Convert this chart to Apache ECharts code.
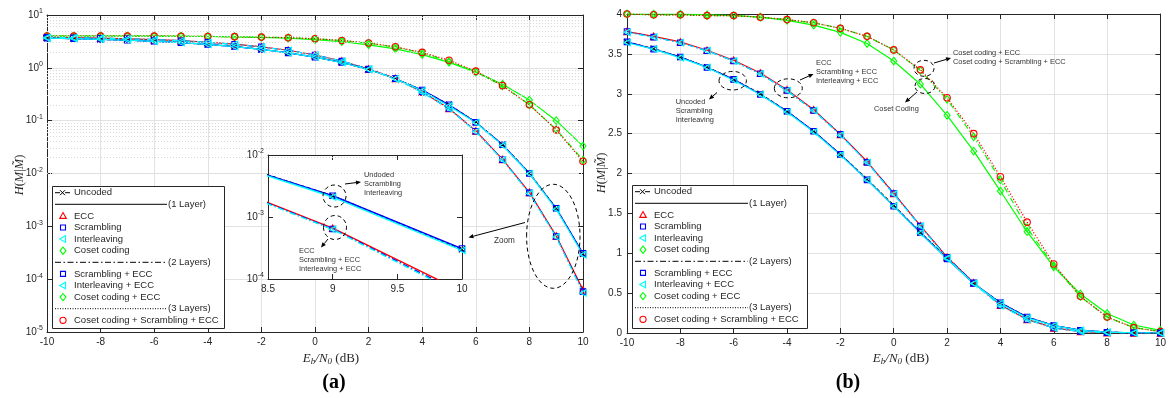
<!DOCTYPE html>
<html><head><meta charset="utf-8">
<script src="https://cdn.jsdelivr.net/npm/echarts@6/dist/echarts.min.js"></script>
<style>html,body{margin:0;padding:0;background:#fff}#c{width:1169px;height:398px}</style>
</head><body><div id="c"></div>
<script>
// ---------------- data ----------------
const snr = [-10,-9,-8,-7,-6,-5,-4,-3,-2,-1,0,1,2,3,4,5,6,7,8,9,10];
const uncoded         = [3.65,3.565,3.46,3.335,3.18,3.0,2.78,2.53,2.24,1.93,1.60,1.26,0.94,0.62,0.38,0.20,0.094,0.035,0.0102,0.0022,0.00030];
const scrambling      = [3.65,3.56,3.46,3.33,3.18,2.99,2.78,2.53,2.24,1.92,1.59,1.26,0.93,0.62,0.38,0.20,0.093,0.035,0.0100,0.0022,0.00031];
const interleaving    = [3.64,3.56,3.45,3.33,3.17,2.99,2.77,2.52,2.23,1.92,1.59,1.25,0.93,0.62,0.37,0.19,0.092,0.034,0.0099,0.0021,0.00029];
const ecc             = [3.78,3.72,3.65,3.545,3.42,3.26,3.05,2.80,2.49,2.15,1.75,1.345,0.95,0.63,0.35,0.17,0.064,0.0185,0.0044,0.00066,0.000063];
const scramblingEcc   = [3.78,3.71,3.64,3.54,3.41,3.25,3.04,2.79,2.49,2.14,1.75,1.34,0.95,0.63,0.35,0.17,0.063,0.0182,0.0043,0.00064,0.000058];
const interleavingEcc = [3.77,3.71,3.64,3.54,3.41,3.25,3.04,2.79,2.48,2.14,1.74,1.34,0.94,0.62,0.34,0.17,0.062,0.018,0.0042,0.00063,0.000055];
const coset           = [4.0,4.0,4.0,3.99,3.98,3.96,3.92,3.86,3.77,3.63,3.41,3.12,2.73,2.28,1.78,1.27,0.83,0.49,0.245,0.10,0.033];
const cosetEcc        = [4.0,3.99,3.99,3.98,3.98,3.96,3.93,3.89,3.82,3.72,3.55,3.29,2.93,2.46,1.92,1.32,0.845,0.455,0.20,0.068,0.018];
const cosetScrEcc     = [4.0,3.99,3.99,3.98,3.98,3.96,3.93,3.89,3.82,3.72,3.55,3.30,2.95,2.50,1.96,1.39,0.865,0.46,0.20,0.067,0.017];

const logMinor = [];
[-5,-4,-3,-2,-1,0].forEach(e => { for (let k = 2; k <= 9; k++) logMinor.push(k * Math.pow(10, e)); });

const DASHDOT = [6,2.5,1.5,2.5];
const DOT = [1.2,1.8];
const SANS = '"Liberation Sans", Arial, Helvetica, sans-serif';
const SERIF = '"Liberation Serif", "DejaVu Serif", serif';
const AX = '#262626';
const LEG_FONT = '9.5px ' + SANS;

// drawing order: greens/red-dotted first, cyan last (on top)
const defs = [
  {name:'Coset coding', data:coset, color:'#00ff00', sym:'diamond', dash:'solid', grp:'C'},
  {name:'Coset coding + ECC', data:cosetEcc, color:'#00ff00', sym:'diamond', dash:DASHDOT, grp:'C'},
  {name:'Coset coding + Scrambling + ECC', data:cosetScrEcc, color:'#ff0000', sym:'circle', dash:DOT, grp:'C'},
  {name:'Uncoded', data:uncoded, color:'#000000', sym:'x', dash:[4,2], grp:'A'},
  {name:'ECC', data:ecc, color:'#ff0000', sym:'triangle', dash:'solid', grp:'B'},
  {name:'Scrambling', data:scrambling, color:'#0000ff', sym:'rect', dash:'solid', grp:'A'},
  {name:'Scrambling + ECC', data:scramblingEcc, color:'#0000ff', sym:'rect', dash:DASHDOT, grp:'B'},
  {name:'Interleaving', data:interleaving, color:'#00ffff', sym:'ltri', dash:'solid', grp:'A'},
  {name:'Interleaving + ECC', data:interleavingEcc, color:'#00ffff', sym:'ltri', dash:DASHDOT, grp:'B'}
];

function symOf(s){
  if (s === 'x') return {symbol:'path://M0,0L10,10M10,0L0,10', size:6, rot:0};
  if (s === 'ltri') return {symbol:'triangle', size:6.5, rot:90};
  if (s === 'diamond') return {symbol:'diamond', size:[6,7.5], rot:0};
  if (s === 'rect') return {symbol:'rect', size:5.5, rot:0};
  if (s === 'circle') return {symbol:'circle', size:6.5, rot:0};
  return {symbol:'triangle', size:6.5, rot:0};
}

function mkSeries(d, xi, yi, z, w){
  const s = symOf(d.sym);
  return {
    type:'line', name:d.name, xAxisIndex:xi, yAxisIndex:yi, z:z,
    data: snr.map((x,i) => [x, d.data[i]]),
    symbol:s.symbol, symbolSize:s.size, symbolRotate:s.rot,
    showSymbol:true, showAllSymbol:true, clip:true, animation:false, silent:true,
    lineStyle:{color:d.color, width:w || 1.2, type:d.dash},
    itemStyle:{color:'transparent', borderColor:d.color, borderWidth:1.1}
  };
}

function logFmt(v){
  const e = Math.round(Math.log10(v));
  return '{b|10}{s|' + e + '}';
}
const logRich = {b:{fontSize:10, color:AX, fontFamily:SANS}, s:{fontSize:7, color:AX, fontFamily:SANS, padding:[0,0,7,0]}};

function xAx(grid, pos, min, max, interval, labels, split){
  return {
    type:'value', gridIndex:grid, position:pos, min:min, max:max, interval:interval, z: grid===1?4:0,
    axisLine:{show:true, onZero:false, lineStyle:{color:AX, width:1}},
    axisTick:{show:true, inside:true, length:5, lineStyle:{color:AX}},
    axisLabel:{show:labels, margin:5, color:AX, fontSize:10, fontFamily:SANS},
    splitLine:{show:split, lineStyle:{color:'#e2e2e2', width:1}}
  };
}
function yLog(grid, pos, min, max, labels, split, splitNumber){
  return {
    type:'log', logBase:10, gridIndex:grid, position:pos, min:min, max:max, splitNumber:splitNumber, z: grid===1?4:0,
    axisLine:{show:true, onZero:false, lineStyle:{color:AX, width:1}},
    axisTick:{show:true, inside:true, length:5, lineStyle:{color:AX}},
    axisLabel:{show:labels, margin:4, formatter:logFmt, rich:logRich},
    splitLine:{show:split, lineStyle:{color:'#e2e2e2', width:1}}
  };
}
function yLin(grid, pos, labels, split){
  return {
    type:'value', gridIndex:grid, position:pos, min:0, max:4, interval:0.5,
    axisLine:{show:true, onZero:false, lineStyle:{color:AX, width:1}},
    axisTick:{show:true, inside:true, length:5, lineStyle:{color:AX}},
    axisLabel:{show:labels, margin:5, color:AX, fontSize:10, fontFamily:SANS},
    splitLine:{show:split, lineStyle:{color:'#e2e2e2', width:1}}
  };
}

const series = [];
// minor log grid (left panel)
series.push({type:'line', xAxisIndex:0, yAxisIndex:0, z:1, data:[[0,1]], showSymbol:false, silent:true,
  lineStyle:{opacity:0}, animation:false,
  markLine:{silent:true, symbol:['none','none'], label:{show:false}, animation:false,
    lineStyle:{color:'#d6d6d6', width:1, type:[1,2]},
    data: logMinor.map(v => ({yAxis:v}))}});
defs.forEach(d => series.push(mkSeries(d, 0, 0, 2)));
defs.filter(d => d.grp !== 'C').forEach(d => series.push(mkSeries(d, 2, 2, 5, 1.4)));
defs.forEach(d => series.push(mkSeries(d, 4, 4, 2)));

// ---------------- graphics ----------------
const legendRows = [
  {label:'Uncoded', marker:'x', color:'#000000'},
  {sep:'(1 Layer)', dash:null},
  {label:'ECC', marker:'triangle', color:'#ff0000'},
  {label:'Scrambling', marker:'rect', color:'#0000ff'},
  {label:'Interleaving', marker:'ltri', color:'#00ffff'},
  {label:'Coset coding', marker:'diamond', color:'#00ff00'},
  {sep:'(2 Layers)', dash:DASHDOT},
  {label:'Scrambling + ECC', marker:'rect', color:'#0000ff'},
  {label:'Interleaving + ECC', marker:'ltri', color:'#00ffff'},
  {label:'Coset coding + ECC', marker:'diamond', color:'#00ff00'},
  {sep:'(3 Layers)', dash:[1,1.5]},
  {label:'Coset coding + Scrambling + ECC', marker:'circle', color:'#ff0000'}
];

function markerEl(m, cx, cy, c){
  const st = {fill:'none', stroke:c, lineWidth:1.1};
  if (m === 'triangle') return [{type:'polygon', shape:{points:[[cx,cy-3.3],[cx+3.3,cy+2.5],[cx-3.3,cy+2.5]]}, style:st, z:11}];
  if (m === 'ltri') return [{type:'polygon', shape:{points:[[cx-3.3,cy],[cx+2.5,cy-3.3],[cx+2.5,cy+3.3]]}, style:st, z:11}];
  if (m === 'rect') return [{type:'rect', shape:{x:cx-2.5, y:cy-2.5, width:5, height:5}, style:st, z:11}];
  if (m === 'diamond') return [{type:'polygon', shape:{points:[[cx,cy-3.6],[cx+3,cy],[cx,cy+3.6],[cx-3,cy]]}, style:st, z:11}];
  if (m === 'circle') return [{type:'circle', shape:{cx:cx, cy:cy, r:3.1}, style:st, z:11}];
  return [
    {type:'line', shape:{x1:cx-2.5, y1:cy-2.5, x2:cx+2.5, y2:cy+2.5}, style:{stroke:c, lineWidth:1}, z:11},
    {type:'line', shape:{x1:cx+2.5, y1:cy-2.5, x2:cx-2.5, y2:cy+2.5}, style:{stroke:c, lineWidth:1}, z:11}
  ];
}

function buildLegend(x0, y0, w, h, sepEnd){
  let els = [{type:'rect', shape:{x:x0+0.5, y:y0+0.5, width:w, height:h}, style:{fill:'#fff', stroke:AX, lineWidth:1}, z:10}];
  legendRows.forEach((r, i) => {
    const cy = y0 + 6.7 + i * 11.6;
    if (r.sep) {
      const ls = {stroke:'#000', lineWidth:1};
      if (r.dash) ls.lineDash = r.dash;
      els.push({type:'line', shape:{x1:x0+3, y1:cy, x2:x0+sepEnd, y2:cy}, style:ls, z:11});
      els.push({type:'text', x:x0+sepEnd+1, y:cy, style:{text:r.sep, fill:AX, font:LEG_FONT, verticalAlign:'middle', align:'left'}, z:11});
    } else {
      if (r.marker === 'x') {
        els.push({type:'line', shape:{x1:x0+3, y1:cy, x2:x0+8, y2:cy}, style:{stroke:'#000', lineWidth:1}, z:11});
        els.push({type:'line', shape:{x1:x0+13, y1:cy, x2:x0+18, y2:cy}, style:{stroke:'#000', lineWidth:1}, z:11});
        els = els.concat(markerEl('x', x0+10.5, cy, '#000'));
      } else {
        els = els.concat(markerEl(r.marker, x0+11, cy, r.color));
      }
      els.push({type:'text', x:x0+22, y:cy, style:{text:r.label, fill:AX, font:LEG_FONT, verticalAlign:'middle', align:'left'}, z:11});
    }
  });
  return els;
}

function ell(cx, cy, rx, ry){
  return {type:'ellipse', shape:{cx:cx, cy:cy, rx:rx, ry:ry}, style:{fill:'none', stroke:'#000', lineWidth:1, lineDash:[4,3]}, z:12};
}
function arrow(x1, y1, x2, y2){
  const a = Math.atan2(y2-y1, x2-x1), L = 5, W = 2.2;
  const bx = x2 - L*Math.cos(a), by = y2 - L*Math.sin(a);
  return [
    {type:'line', shape:{x1:x1, y1:y1, x2:bx, y2:by}, style:{stroke:'#000', lineWidth:1}, z:12},
    {type:'polygon', shape:{points:[[x2,y2],[bx+W*Math.sin(a), by-W*Math.cos(a)],[bx-W*Math.sin(a), by+W*Math.cos(a)]]}, style:{fill:'#000'}, z:12}
  ];
}
function note(x, y, lines, size){
  return lines.map((t, i) => ({type:'text', x:x, y:y + i*9, style:{text:t, fill:'#333', font:(size||7.4)+'px '+SANS, verticalAlign:'middle', align:'left'}, z:12}));
}

const axisTitleRich = {
  i:{fontStyle:'italic', fontFamily:SERIF, fontSize:13, fill:'#262626'},
  sb:{fontStyle:'italic', fontFamily:SERIF, fontSize:9, fill:'#262626', padding:[6,0,0,0]},
  r:{fontFamily:SERIF, fontSize:13, fill:'#262626'}
};
const yTitleRich = {
  i:{fontStyle:'italic', fontFamily:SERIF, fontSize:12.5, fill:'#262626'},
  r:{fontFamily:SERIF, fontSize:12.5, fill:'#262626'}
};
const xTitle = '{i|E}{sb|b}{i|/N}{sb|0}{r| (dB)}';
const yTitle = '{i|H}{r|(}{i|M}{r||}{i|M\u0303}{r|)}';

let graphic = [];
// inset white background
graphic.push({type:'rect', shape:{x:268, y:155, width:194, height:124}, style:{fill:'#fff'}, z:3});
graphic = graphic.concat(buildLegend(52, 186, 172, 142, 115));
graphic = graphic.concat(buildLegend(632, 185, 175, 143, 116));
// titles
graphic.push({type:'text', x:331, y:359, style:{text:xTitle, rich:axisTitleRich, align:'center', verticalAlign:'middle'}, z:12});
graphic.push({type:'text', x:901, y:359, style:{text:xTitle, rich:axisTitleRich, align:'center', verticalAlign:'middle'}, z:12});
graphic.push({type:'text', x:20, y:175, rotation:Math.PI/2, style:{text:yTitle, rich:yTitleRich, align:'center', verticalAlign:'middle'}, z:12});
graphic.push({type:'text', x:602, y:173, rotation:Math.PI/2, style:{text:yTitle, rich:yTitleRich, align:'center', verticalAlign:'middle'}, z:12});
graphic.push({type:'text', x:334, y:383, style:{text:'(a)', fill:'#000', font:'bold 20px '+SERIF, align:'center', verticalAlign:'middle'}, z:12});
graphic.push({type:'text', x:848, y:383, style:{text:'(b)', fill:'#000', font:'bold 20px '+SERIF, align:'center', verticalAlign:'middle'}, z:12});
// left annotations
graphic.push(ell(334.5, 196, 11.5, 11));
graphic = graphic.concat(arrow(345, 184, 361, 182));
graphic = graphic.concat(note(364, 175, ['Undoded','Scrambling','Interleaving']));
graphic.push(ell(335, 227.5, 11.5, 12));
graphic = graphic.concat(arrow(328, 239, 321, 247.5));
graphic = graphic.concat(note(299, 251, ['ECC','Scrambling + ECC','Interleaving + ECC']));
graphic.push(ell(553.3, 236.3, 26.7, 52));
graphic = graphic.concat(arrow(525, 222.5, 468.5, 237.5));
graphic = graphic.concat(note(494, 241, ['Zoom'], 8.2));
// right annotations
graphic.push(ell(732.7, 80.7, 13.7, 9.3));
graphic = graphic.concat(arrow(717, 92.5, 709, 99.5));
graphic = graphic.concat(note(675.7, 101.7, ['Uncoded','Scrambling','Interleaving']));
graphic.push(ell(788.3, 88.3, 14, 9.5));
graphic = graphic.concat(arrow(800, 80, 813.5, 74));
graphic = graphic.concat(note(816, 63.3, ['ECC','Scrambling + ECC','Interleaving + ECC']));
graphic.push(ell(924, 68.3, 10, 8));
graphic = graphic.concat(arrow(934, 63, 951, 58));
graphic = graphic.concat(note(953, 53.3, ['Coset coding + ECC','Coset coding + Scrambling + ECC']));
graphic.push(ell(925, 86, 10, 7.5));
graphic = graphic.concat(arrow(917, 92, 905, 102.5));
graphic = graphic.concat(note(874, 109.3, ['Coset Coding']));

const option = {
  animation:false,
  backgroundColor:'#fff',
  grid:[
    {left:47, top:15, width:536, height:317, containLabel:false},
    {left:268, top:155, width:194, height:124, containLabel:false},
    {left:627, top:14, width:540, height:319, containLabel:false}
  ],
  xAxis:[
    xAx(0,'bottom',-10,10,2,true,true),
    xAx(0,'top',-10,10,2,false,false),
    xAx(1,'bottom',8.5,10,0.5,true,false),
    xAx(1,'top',8.5,10,0.5,false,false),
    xAx(2,'bottom',-10,10,2,true,true),
    xAx(2,'top',-10,10,2,false,false)
  ],
  yAxis:[
    yLog(0,'left',1e-5,10,true,true,6),
    yLog(0,'right',1e-5,10,false,false,6),
    yLog(1,'left',1e-4,1e-2,true,false,2),
    yLog(1,'right',1e-4,1e-2,false,false,2),
    yLin(2,'left',true,true),
    yLin(2,'right',false,false)
  ],
  series:series,
  graphic:graphic
};

const chart = echarts.init(document.getElementById('c'), null, {renderer:'canvas'});
chart.setOption(option);
</script></body></html>
